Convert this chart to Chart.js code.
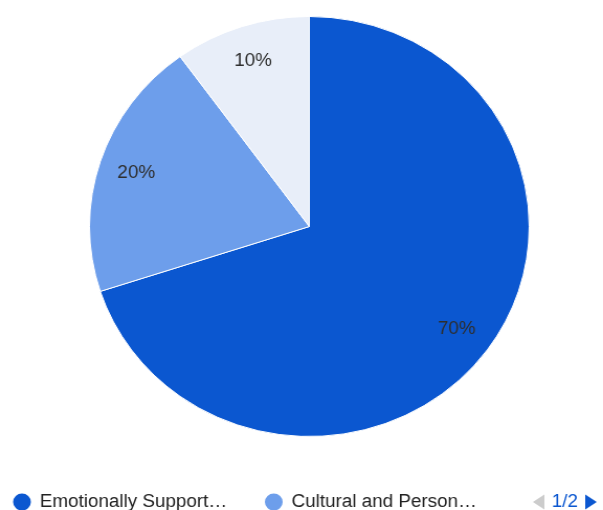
<!DOCTYPE html>
<html>
<head>
<meta charset="utf-8">
<script src="https://cdn.jsdelivr.net/npm/chart.js@4"></script>
<style>
  html, body { margin: 0; padding: 0; background: #ffffff; overflow: hidden; }
  /* the drawing is widened a little horizontally, giving the pie its slightly oval shape */
  #wrap { width: 576px; height: 510px; transform: scaleX(1.0469); transform-origin: 0 0; }
  canvas { display: block; }
</style>
</head>
<body>
<div id="wrap"><canvas id="pie" width="576" height="510"></canvas></div>
<script>
// Slice names, in drawing order (clockwise from 12 o'clock)
const categories = [
  'Emotionally Supportive Environment',
  'Cultural and Personal Relevance',
  'Other Considerations'
];
// Share of each slice, in percent
const shares = [70, 20, 10];
const sliceColors = ['#0b57d0', '#6d9eeb', '#e8eef9'];
// Legend paging indicator
const pageLabel = '1/2';
const legendPageSize = 2;

const FONT = '"Liberation Sans", Arial, sans-serif';

// Percentage labels inside each slice
const sliceLabels = {
  id: 'sliceLabels',
  afterDatasetsDraw(chart) {
    const ctx = chart.ctx;
    const meta = chart.getDatasetMeta(0);
    ctx.save();
    ctx.font = '18px ' + FONT;
    ctx.fillStyle = '#2e2e2e';
    ctx.textAlign = 'center';
    ctx.textBaseline = 'middle';
    meta.data.forEach((arc, i) => {
      const p = arc.getProps(['x', 'y', 'startAngle', 'endAngle', 'outerRadius'], true);
      const mid = (p.startAngle + p.endAngle) / 2;
      const r = p.outerRadius * 0.828;
      ctx.fillText(shares[i] + '%', p.x + Math.cos(mid) * r, p.y + Math.sin(mid) * r);
    });
    ctx.restore();
  }
};

// Bottom legend with truncated names and a page indicator
const pagedLegend = {
  id: 'pagedLegend',
  afterDraw(chart) {
    const ctx = chart.ctx;
    const y = 502;
    const maxText = 181;
    const itemX = [21, 261.5];
    ctx.save();
    ctx.font = '18px ' + FONT;
    ctx.textBaseline = 'middle';
    ctx.textAlign = 'left';
    const fit = (s) => {
      if (ctx.measureText(s).width <= maxText) return s;
      let out = '';
      for (const ch of s) {
        if (ctx.measureText(out + ch + '\u2026').width > maxText) break;
        out += ch;
      }
      return out + '\u2026';
    };
    for (let i = 0; i < legendPageSize; i++) {
      const cx = itemX[i];
      ctx.fillStyle = sliceColors[i];
      ctx.beginPath();
      ctx.arc(cx, y, 8.5, 0, Math.PI * 2);
      ctx.fill();
      ctx.fillStyle = '#222222';
      ctx.fillText(fit(categories[i]), cx + 17, y);
    }
    // previous-page arrow (disabled)
    ctx.fillStyle = '#cccccc';
    ctx.beginPath();
    ctx.moveTo(509, y);
    ctx.lineTo(520, y - 7.5);
    ctx.lineTo(520, y + 7.5);
    ctx.closePath();
    ctx.fill();
    // page number
    ctx.fillStyle = '#0b57d0';
    ctx.fillText(pageLabel, 527, y);
    // next-page arrow
    ctx.beginPath();
    ctx.moveTo(559, y - 7.5);
    ctx.lineTo(570, y);
    ctx.lineTo(559, y + 7.5);
    ctx.closePath();
    ctx.fill();
    ctx.restore();
  }
};

new Chart(document.getElementById('pie'), {
  type: 'pie',
  data: {
    labels: categories,
    datasets: [{
      data: shares,
      backgroundColor: sliceColors,
      borderColor: '#ffffff',
      borderWidth: 1,
      hoverOffset: 0
    }]
  },
  options: {
    responsive: false,
    animation: false,
    events: [],
    layout: { padding: { top: 16, bottom: 73, left: 85, right: 70 } },
    plugins: {
      legend: { display: false },
      tooltip: { enabled: false }
    }
  },
  plugins: [sliceLabels, pagedLegend]
});
</script>
</body>
</html>
